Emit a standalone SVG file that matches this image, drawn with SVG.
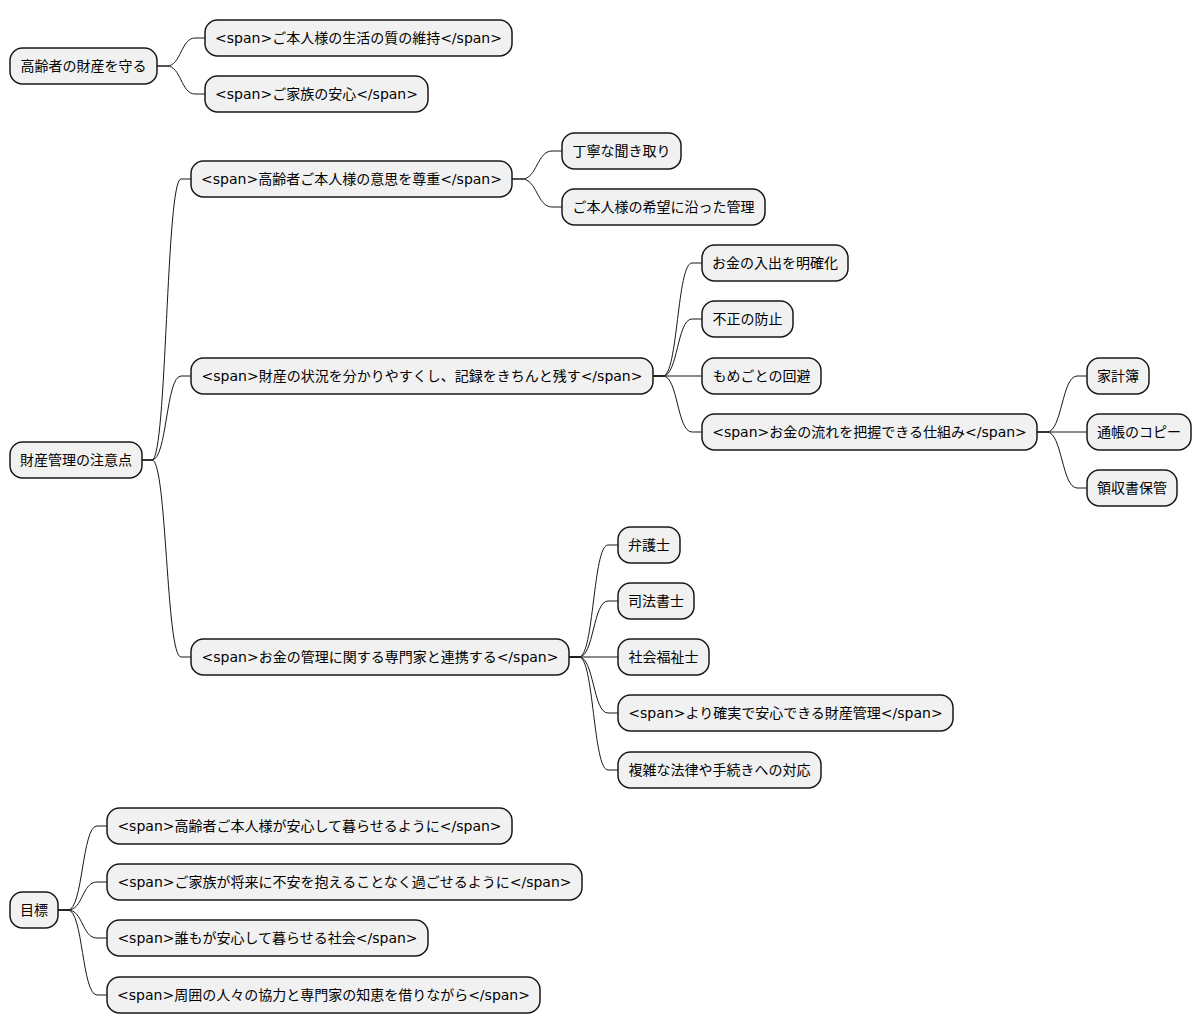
<svg xmlns="http://www.w3.org/2000/svg" width="1202" height="1034" viewBox="0 0 1202 1034">
<style>
.n rect{fill:#F1F1F1;stroke:#181818;stroke-width:1.5}
.n text{font-family:"DejaVu Sans","Noto Sans CJK JP",sans-serif;font-size:14px;fill:#000;text-anchor:middle}
#edges path{fill:none;stroke:#181818;stroke-width:1}
</style>
<rect width="1202" height="1034" fill="#FFFFFF"/>
<g id="edges">
<path d="M157,66 L167,66 C181,66 181,38 195,38 L205,38"/>
<path d="M157,66 L167,66 C181,66 181,94 195,94 L205,94"/>
<path d="M142,460 L152,460 C167,460 166,179 181,179 L191,179"/>
<path d="M142,460 L152,460 C167,460 166,376 181,376 L191,376"/>
<path d="M142,460 L152,460 C167,460 166,657 181,657 L191,657"/>
<path d="M512,179 L522,179 C537,179 537,151 552,151 L562,151"/>
<path d="M512,179 L522,179 C537,179 537,207 552,207 L562,207"/>
<path d="M653,376 L663,376 C678,376 677,263 692,263 L702,263"/>
<path d="M653,376 L663,376 C678,376 677,319 692,319 L702,319"/>
<path d="M653,376 L702,376"/>
<path d="M653,376 L663,376 C678,376 677,432 692,432 L702,432"/>
<path d="M1037,432 L1047,432 C1062,432 1062,376 1077,376 L1087,376"/>
<path d="M1037,432 L1087,432"/>
<path d="M1037,432 L1047,432 C1062,432 1062,488 1077,488 L1087,488"/>
<path d="M569,657 L579,657 C594,657 593,545 608,545 L618,545"/>
<path d="M569,657 L579,657 C594,657 593,601 608,601 L618,601"/>
<path d="M569,657 L618,657"/>
<path d="M569,657 L579,657 C594,657 593,713 608,713 L618,713"/>
<path d="M569,657 L579,657 C594,657 593,770 608,770 L618,770"/>
<path d="M58,910 L68,910 C83,910 82,826 97,826 L107,826"/>
<path d="M58,910 L68,910 C83,910 82,882 97,882 L107,882"/>
<path d="M58,910 L68,910 C83,910 82,938 97,938 L107,938"/>
<path d="M58,910 L68,910 C83,910 82,995 97,995 L107,995"/>
</g>
<g id="r1" class="n"><rect x="10" y="48" width="147" height="36" rx="12.5"/><text x="83.5" y="71">高齢者の財産を守る</text></g>
<g id="r1a" class="n"><rect x="205" y="20" width="307" height="36" rx="12.5"/><text x="358.5" y="43">&lt;span&gt;ご本人様の生活の質の維持&lt;/span&gt;</text></g>
<g id="r1b" class="n"><rect x="205" y="76" width="223" height="36" rx="12.5"/><text x="316.5" y="99">&lt;span&gt;ご家族の安心&lt;/span&gt;</text></g>

<g id="r2" class="n"><rect x="10" y="442" width="132" height="36" rx="12.5"/><text x="76" y="465">財産管理の注意点</text></g>
<g id="r2a" class="n"><rect x="191" y="161" width="321" height="36" rx="12.5"/><text x="351.5" y="184">&lt;span&gt;高齢者ご本人様の意思を尊重&lt;/span&gt;</text></g>
<g id="r2a1" class="n"><rect x="562" y="133" width="119" height="36" rx="12.5"/><text x="621.5" y="156">丁寧な聞き取り</text></g>
<g id="r2a2" class="n"><rect x="562" y="189" width="203" height="36" rx="12.5"/><text x="663.5" y="212">ご本人様の希望に沿った管理</text></g>
<g id="r2b" class="n"><rect x="191" y="358" width="462" height="36" rx="12.5"/><text x="422" y="381">&lt;span&gt;財産の状況を分かりやすくし、記録をきちんと残す&lt;/span&gt;</text></g>
<g id="r2b1" class="n"><rect x="702" y="245" width="146" height="36" rx="12.5"/><text x="775" y="268">お金の入出を明確化</text></g>
<g id="r2b2" class="n"><rect x="702" y="301" width="91" height="36" rx="12.5"/><text x="747.5" y="324">不正の防止</text></g>
<g id="r2b3" class="n"><rect x="702" y="358" width="119" height="36" rx="12.5"/><text x="761.5" y="381">もめごとの回避</text></g>
<g id="r2b4" class="n"><rect x="702" y="414" width="335" height="36" rx="12.5"/><text x="869.5" y="437">&lt;span&gt;お金の流れを把握できる仕組み&lt;/span&gt;</text></g>
<g id="r2b4a" class="n"><rect x="1087" y="358" width="62" height="36" rx="12.5"/><text x="1118" y="381">家計簿</text></g>
<g id="r2b4b" class="n"><rect x="1087" y="414" width="104" height="36" rx="12.5"/><text x="1139" y="437">通帳のコピー</text></g>
<g id="r2b4c" class="n"><rect x="1087" y="470" width="90" height="36" rx="12.5"/><text x="1132" y="493">領収書保管</text></g>
<g id="r2c" class="n"><rect x="191" y="639" width="378" height="36" rx="12.5"/><text x="380" y="662">&lt;span&gt;お金の管理に関する専門家と連携する&lt;/span&gt;</text></g>
<g id="r2c1" class="n"><rect x="618" y="527" width="62" height="36" rx="12.5"/><text x="649" y="550">弁護士</text></g>
<g id="r2c2" class="n"><rect x="618" y="583" width="76" height="36" rx="12.5"/><text x="656" y="606">司法書士</text></g>
<g id="r2c3" class="n"><rect x="618" y="639" width="91" height="36" rx="12.5"/><text x="663.5" y="662">社会福祉士</text></g>
<g id="r2c4" class="n"><rect x="618" y="695" width="335" height="36" rx="12.5"/><text x="785.5" y="718">&lt;span&gt;より確実で安心できる財産管理&lt;/span&gt;</text></g>
<g id="r2c5" class="n"><rect x="618" y="752" width="203" height="36" rx="12.5"/><text x="719.5" y="775">複雑な法律や手続きへの対応</text></g>

<g id="r3" class="n"><rect x="10" y="892" width="48" height="36" rx="12.5"/><text x="34" y="915">目標</text></g>
<g id="r3a" class="n"><rect x="107" y="808" width="405" height="36" rx="12.5"/><text x="309.5" y="831">&lt;span&gt;高齢者ご本人様が安心して暮らせるように&lt;/span&gt;</text></g>
<g id="r3b" class="n"><rect x="107" y="864" width="475" height="36" rx="12.5"/><text x="344.5" y="887">&lt;span&gt;ご家族が将来に不安を抱えることなく過ごせるように&lt;/span&gt;</text></g>
<g id="r3c" class="n"><rect x="107" y="920" width="321" height="36" rx="12.5"/><text x="267.5" y="943">&lt;span&gt;誰もが安心して暮らせる社会&lt;/span&gt;</text></g>
<g id="r3d" class="n"><rect x="107" y="977" width="433" height="36" rx="12.5"/><text x="323.5" y="1000">&lt;span&gt;周囲の人々の協力と専門家の知恵を借りながら&lt;/span&gt;</text></g>
</svg>
